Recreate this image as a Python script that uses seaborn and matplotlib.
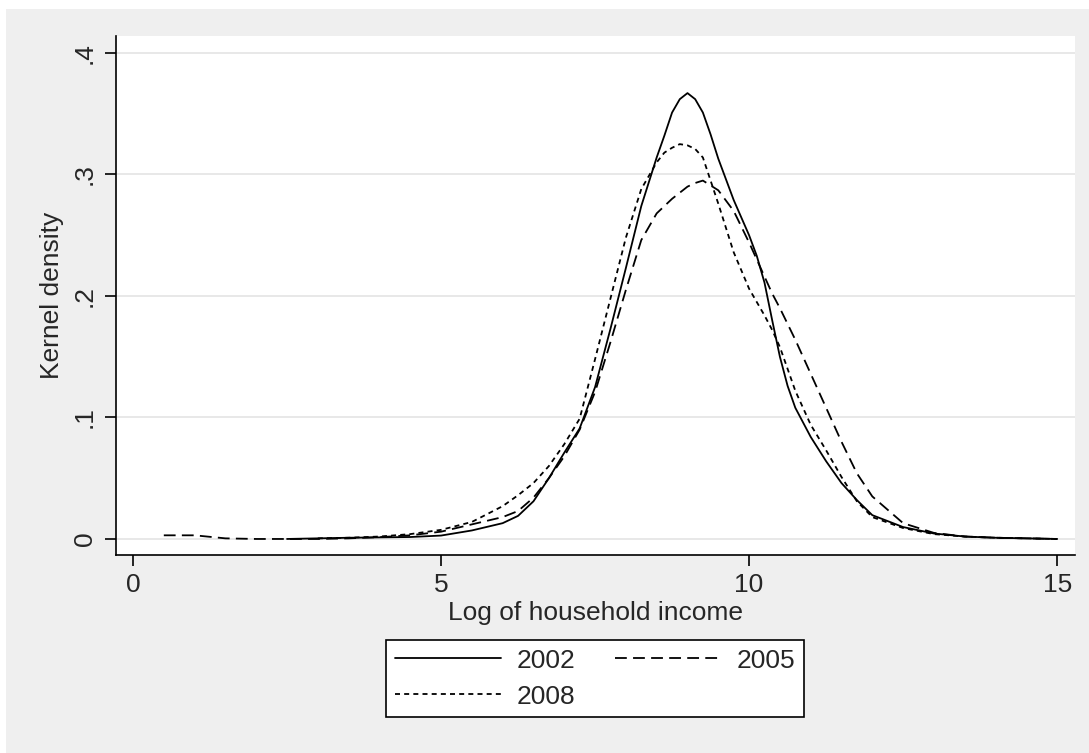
import numpy as np
import pandas as pd
import matplotlib
matplotlib.use('Agg')
import matplotlib.pyplot as plt
import seaborn as sns
from matplotlib.patches import Rectangle

# log household income grid and kernel density
income = [0.5, 1.0, 1.5, 2.0, 2.5, 3.0, 3.5, 4.0, 4.5, 5.0, 5.5, 6.0, 6.25, 6.5, 6.75,
          7.0, 7.25, 7.5, 7.75, 8.0, 8.25, 8.5, 8.625, 8.75, 8.875, 9.0, 9.125, 9.25,
          9.375, 9.5, 9.75, 10.0, 10.125, 10.25, 10.375, 10.5, 10.625, 10.75, 11.0,
          11.25, 11.5, 11.75, 12.0, 12.5, 13.0, 13.5, 14.0, 14.5, 15.0]
nan = np.nan
dens_2002 = [nan, nan, nan, nan, 0.0, 0.0005, 0.001, 0.0013, 0.0016, 0.0028, 0.007, 0.013,
             0.019, 0.031, 0.050, 0.071, 0.091, 0.125, 0.173, 0.223, 0.274, 0.314, 0.332,
             0.351, 0.362, 0.367, 0.362, 0.351, 0.333, 0.313, 0.279, 0.250, 0.233, 0.211,
             0.180, 0.150, 0.126, 0.108, 0.084, 0.064, 0.046, 0.032, 0.0196, 0.0098,
             0.0045, 0.002, 0.001, 0.0005, 0.0]
dens_2005 = [0.003, 0.003, 0.0005, 0.0, 0.0, 0.0, 0.0005, 0.0015, 0.003, 0.006, 0.012, 0.018,
             0.023, 0.034, 0.050, 0.068, 0.090, 0.121, 0.162, 0.205, 0.246, 0.268, 0.274,
             0.280, 0.285, 0.290, 0.293, 0.295, 0.291, 0.287, 0.270, 0.244, 0.230, 0.216,
             0.202, 0.190, 0.177, 0.164, 0.136, 0.108, 0.080, 0.054, 0.035, 0.013, 0.005,
             0.002, 0.001, 0.0005, 0.0]
dens_2008 = [nan, nan, nan, nan, nan, 0.0005, 0.001, 0.002, 0.004, 0.0075, 0.014, 0.027,
             0.036, 0.046, 0.060, 0.078, 0.099, 0.148, 0.198, 0.248, 0.288, 0.310, 0.318,
             0.322, 0.325, 0.324, 0.321, 0.314, 0.295, 0.276, 0.236, 0.206, 0.195, 0.184,
             0.172, 0.158, 0.140, 0.122, 0.094, 0.073, 0.051, 0.031, 0.018, 0.009, 0.004,
             0.002, 0.001, 0.0005, 0.0]
years = ['2002', '2005', '2008']

df = pd.DataFrame({'income': income * 3,
                   'density': dens_2002 + dens_2005 + dens_2008,
                   'year': [y for y in years for _ in income]})

sns.set_style('white')
plt.rcParams['font.family'] = ['Liberation Sans', 'DejaVu Sans']
fs = 19

fig = plt.figure(figsize=(10.89, 7.53), dpi=100)
fig.patch.set_facecolor('white')
fig.patches.append(Rectangle((6 / 1089, 0), 1, 1 - 9 / 753, transform=fig.transFigure,
                             facecolor='#efefef', edgecolor='none', zorder=-1))
ax = fig.add_axes([116 / 1089, 1 - 555 / 753, (1075 - 116) / 1089, (555 - 36) / 753])
ax.set_facecolor('white')

lw = 1.3
styles = {'2002': '-',
          '2005': (0, (8.5 / lw, 4.5 / lw)),
          '2008': (0, (3.6 / lw, 3.0 / lw))}
lines = {}
for y in years:
    sub = df[df['year'] == y].dropna()
    sns.lineplot(data=sub, x='income', y='density', ax=ax, color='black',
                 linewidth=lw, linestyle=styles[y], label=y, legend=False)
    lines[y] = ax.lines[-1]

ax.set_xlim(-0.276, 15.29)
ax.set_ylim(-0.0132, 0.414)
ax.set_xticks([0, 5, 10, 15])
ax.set_yticks([0, 0.1, 0.2, 0.3, 0.4])
ax.set_yticklabels(['0', '.1', '.2', '.3', '.4'], rotation=90, va='center')
ax.yaxis.grid(True, color='#e2e2e2', linewidth=1.1)
ax.set_axisbelow(True)
for s in ['top', 'right']:
    ax.spines[s].set_visible(False)
for s in ['left', 'bottom']:
    ax.spines[s].set_color('black')
    ax.spines[s].set_linewidth(1.2)
ax.tick_params(axis='both', direction='out', length=8, width=1.2, color='black',
               labelsize=fs, left=True, bottom=True)
ax.tick_params(axis='x', pad=5)
ax.tick_params(axis='y', pad=6)
ax.set_xlabel('Log of household income', fontsize=fs, labelpad=3)
ax.set_ylabel('Kernel density', fontsize=fs, labelpad=6)

handles = [lines['2002'], lines['2008'], lines['2005']]
leg = fig.legend(handles, ['2002', '2008', '2005'], ncol=2, loc='upper center',
                 bbox_to_anchor=(595 / 1089, 1 - 640 / 753), fontsize=fs,
                 frameon=True, fancybox=False, edgecolor='black', facecolor='white',
                 handlelength=4.0, handletextpad=0.6, columnspacing=1.5,
                 labelspacing=0.45, borderpad=0.33, borderaxespad=0)
leg.get_frame().set_linewidth(1.2)
leg.get_frame().set_alpha(1)

fig.savefig('out.png', dpi=100)
